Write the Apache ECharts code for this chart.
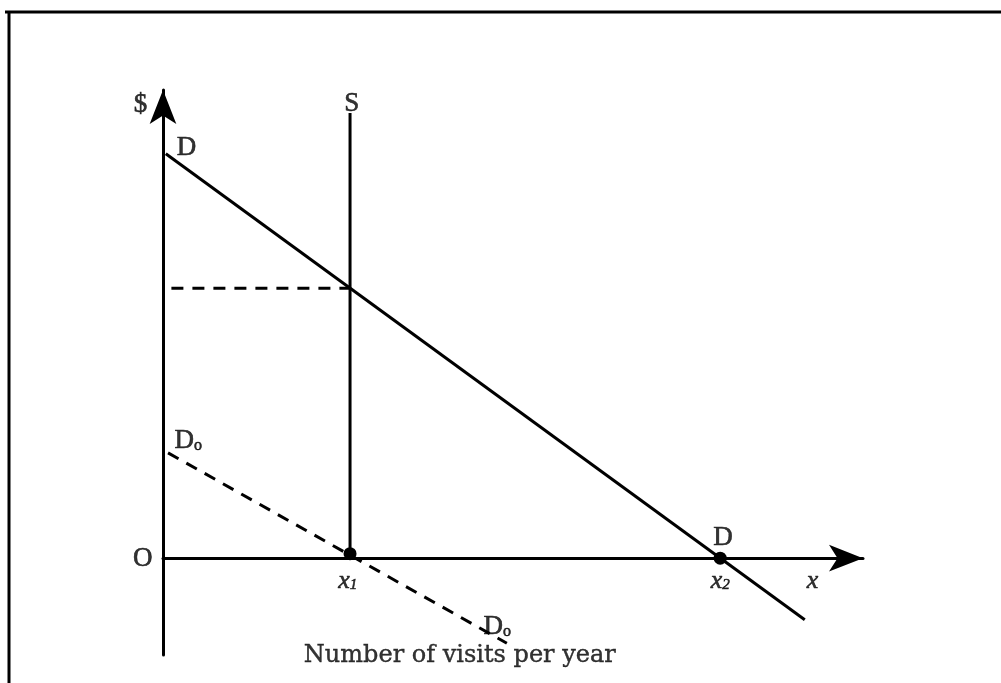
<!DOCTYPE html>
<html>
<head>
<meta charset="utf-8">
<script src="https://cdn.jsdelivr.net/npm/echarts@6/dist/echarts.min.js"></script>
<style>
  html, body { margin: 0; padding: 0; background: #fff; }
  #main { width: 1001px; height: 683px; }
</style>
</head>
<body>
<div id="main"></div>
<script>
// curves in data units (x = visits, y = $)
var demandD = [[0.05, 7.22], [11.46, -1.1]];
var demandD0 = [[0.09, 1.88], [6.14, -1.52]];
var supplyS = [[3.34, 0], [3.34, 7.95]];
var priceLine = [[0.15, 4.82], [3.34, 4.82]];
var points = [[3.34, 0.08], [9.95, 0]];

// text labels: [text, x, y]
var labels = [
    ['{t|$}', -0.4, 8.1],
    ['{t|D}', 0.42, 7.34],
    ['{t|S}', 3.37, 8.12],
    ['{t|D}{s|o}', 0.45, 2.1],
    ['{t|O}', -0.36, 0],
    ['{i|x}{si|1}', 3.3, -0.4],
    ['{i|x}{si|2}', 9.95, -0.4],
    ['{i|x}', 11.6, -0.4],
    ['{t|D}{s|o}', 5.97, -1.22],
    ['{t|D}', 10.0, 0.37],
    ['{b|Number of visits per year}', 5.3, -1.75]
];

var myChart = echarts.init(document.getElementById('main'));

var serif = 'Liberation Serif';
function lineSeries(data, dashed) {
    return {
        type: 'line',
        data: data,
        showSymbol: false,
        clip: false,
        silent: true,
        lineStyle: { color: '#000', width: 3, type: dashed ? [12, 9] : 'solid' }
    };
}

var txt = { color: '#000', textBorderColor: '#000', textBorderWidth: 0.6 };
function rich(extra) { return Object.assign({}, txt, extra); }

myChart.setOption({
    animation: false,
    backgroundColor: '#fff',
    grid: { left: 163, right: 138, top: 90, bottom: 28 },
    xAxis: {
        type: 'value', min: 0, max: 12.5,
        axisLine: { show: true, onZero: true, symbol: ['none', 'arrow'], symbolSize: [20, 34],
            lineStyle: { color: '#000', width: 3 } },
        axisTick: { show: false }, axisLabel: { show: false }, splitLine: { show: false }
    },
    yAxis: {
        type: 'value', min: -1.73, max: 8.36,
        axisLine: { show: true, onZero: true, symbol: ['none', 'arrow'], symbolSize: [20, 34],
            lineStyle: { color: '#000', width: 3 } },
        axisTick: { show: false }, axisLabel: { show: false }, splitLine: { show: false }
    },
    graphic: [
        { type: 'line', shape: { x1: 5, y1: 12, x2: 1001, y2: 12 }, style: { stroke: '#000', lineWidth: 3 } },
        { type: 'line', shape: { x1: 9, y1: 12, x2: 9, y2: 683 }, style: { stroke: '#000', lineWidth: 3 } }
    ],
    series: [
        lineSeries(demandD, false),
        lineSeries(supplyS, false),
        lineSeries(priceLine, true),
        lineSeries(demandD0, true),
        {
            type: 'scatter', data: points, symbolSize: 13, clip: false,
            itemStyle: { color: '#000', opacity: 1 }
        },
        {
            type: 'scatter', clip: false, symbolSize: 0,
            data: labels.map(function (l) { return { value: [l[1], l[2]], name: l[0] }; }),
            label: {
                show: true, position: 'inside', color: '#000',
                formatter: function (p) { return p.name; },
                rich: {
                    t: rich({ fontFamily: serif, fontSize: 27, lineHeight: 26, verticalAlign: 'top' }),
                    s: rich({ fontFamily: serif, fontSize: 16, lineHeight: 12, verticalAlign: 'bottom' }),
                    i: rich({ fontFamily: serif, fontStyle: 'italic', fontSize: 26, lineHeight: 24, verticalAlign: 'top' }),
                    si: rich({ fontFamily: serif, fontStyle: 'italic', fontSize: 15, lineHeight: 10, verticalAlign: 'bottom' }),
                    b: rich({ fontFamily: 'DejaVu Serif', fontSize: 24, textBorderWidth: 0.4 })
                }
            }
        }
    ]
});
</script>
</body>
</html>
